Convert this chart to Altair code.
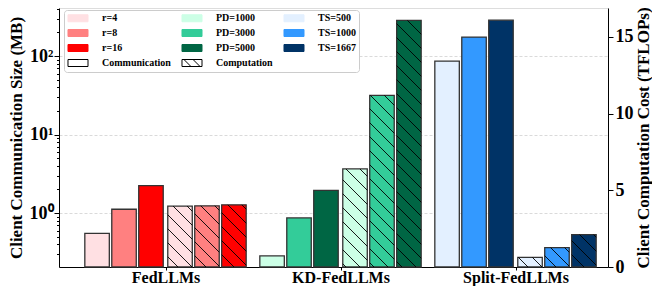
import altair as alt
import pandas as pd
import numpy as np

# ---------------- data ----------------
groups = ["FedLLMs", "KD-FedLLMs", "Split-FedLLMs"]
series = [["r=4", "r=8", "r=16"],
          ["PD=1000", "PD=3000", "PD=5000"],
          ["TS=500", "TS=1000", "TS=1667"]]
comm_mb = [[0.552, 1.12, 2.24],
           [0.285, 0.87, 1.95],
           [86.5, 175.0, 287.0]]
comp_tflops = [[3.97, 3.99, 4.05],
               [6.39, 11.19, 16.07],
               [0.63, 1.26, 2.11]]
colors = [["#FFE0E3", "#FF8080", "#FF0000"],
          ["#CCFFE6", "#33CC99", "#006644"],
          ["#E3F0FF", "#3399FF", "#003366"]]
kind_labels = ["Communication", "Computation"]
log_ticks = [0.3, 0.4, 0.5, 0.6, 0.7, 0.8, 0.9, 1, 2, 3, 4, 5, 6, 7, 8, 9,
             10, 20, 30, 40, 50, 60, 70, 80, 90, 100, 200, 300, 400]
lin_ticks = [0, 5, 10, 15]

# ---------------- layout constants ----------------
W, H = 549, 259
X_PX = 175.0
XMIN = -(165.5 - 59) / X_PX
XMAX = XMIN + W / X_PX
Y_LOG_MIN, Y_LOG_MAX = 0.206, 410
Y_LIN = [0, 16.88]
PPU = H / Y_LIN[1]
BAR_W = 0.14
COMM_OFF = [-0.391, -0.237, -0.083]
COMP_OFF = [0.083, 0.237, 0.391]
HATCH_S = 14.0

FONT = "Liberation Serif"

rows = []
for g in range(3):
    for k in range(3):
        rows.append(dict(group=groups[g], gi=g, k=k, series=series[g][k],
                         comm=comm_mb[g][k], comp=comp_tflops[g][k]))
df = pd.DataFrame(rows)

# hatch segments ("\\" pattern) for the computation bars, derived from the data
hrows = []
for g in range(3):
    for k in range(3):
        xc = g + COMP_OFF[k]
        x0p = (xc - BAR_W / 2 - XMIN) * X_PX
        x1p = (xc + BAR_W / 2 - XMIN) * X_PX
        ytp = H - comp_tflops[g][k] * PPU
        ybp = H
        cmin = ytp - x1p
        cmax = ybp - x0p
        c = np.ceil(cmin / HATCH_S) * HATCH_S
        while c <= cmax:
            xs = max(x0p, ytp - c)
            xe = min(x1p, ybp - c)
            if xe - xs > 0.8:
                hrows.append(dict(hx=xs / X_PX + XMIN, hx2=xe / X_PX + XMIN,
                                  hy=(H - (xs + c)) / PPU, hy2=(H - (xe + c)) / PPU))
            c += HATCH_S
hdf = pd.DataFrame(hrows)

# bar fill scale (9 series)
bar_domain = [s for grp in series for s in grp]
bar_range = [c for grp in colors for c in grp]
fill_scale = alt.Scale(domain=bar_domain, range=bar_range)

# legend entries (column-major: one column per method, kind patches in last row)
RECT = "M-2.86,-1H2.86V1H-2.86Z"
HATCH = "M-2.86,-1H2.86V1H-2.86Z M-2.3,-1L-0.3,1 M0.3,-1L2.3,1"
leg_domain, fill_range, stroke_range, shape_range = [], [], [], []
for g in range(3):
    for k in range(3):
        leg_domain.append(series[g][k])
        fill_range.append(colors[g][k])
        stroke_range.append(colors[g][k])
        shape_range.append(RECT)
    if g < 2:
        leg_domain.append(kind_labels[g])
        fill_range.append("#FFFFFF")
        stroke_range.append("#000000")
        shape_range.append(RECT if g == 0 else HATCH)
leg_df = pd.DataFrame({"series": leg_domain})

x_axis = alt.Axis(values=[0, 1, 2],
                  labelExpr="datum.value == 0 ? 'FedLLMs' : datum.value == 1 ? 'KD-FedLLMs' : 'Split-FedLLMs'",
                  grid=False, tickSize=3, labelPadding=-1, labelFontSize=16,
                  labelFont=FONT, labelFontWeight="bold", labelColor="black",
                  domainColor="black", tickColor="black", title=None)
x_scale = alt.Scale(domain=[XMIN, XMAX], nice=False, zero=False)

major_test = "indexof([1, 10, 100], datum.value) >= 0"
left_axis = alt.Axis(
    values=log_ticks,
    labelExpr="datum.value == 1 ? '10⁰' : datum.value == 10 ? '10¹' : datum.value == 100 ? '10²' : ''",
    labelOverlap=False,
    tickSize={"condition": {"test": major_test, "value": 5}, "value": 2.5},
    grid=True,
    gridOpacity={"condition": {"test": major_test, "value": 1}, "value": 0},
    gridDash=[3, 2], gridColor="#d0d0d0", gridWidth=0.8,
    labelFont=FONT, labelFontWeight="bold", labelFontSize=18, labelColor="black",
    labelPadding=1, domainColor="black", tickColor="black",
    title="Client Communication Size (MB)", titleFont=FONT, titleFontWeight="bold",
    titleFontSize=17, titleColor="black", titlePadding=4,
)
right_axis = alt.Axis(
    orient="right", values=lin_ticks, grid=False, tickSize=5,
    labelFont=FONT, labelFontWeight="bold", labelFontSize=18, labelColor="black",
    labelPadding=2, domainColor="black", tickColor="black",
    title="Client Computation Cost (TFLOPs)", titleFont=FONT, titleFontWeight="bold",
    titleFontSize=17, titleColor="black", titleAngle=270, titleBaseline="top",
    titlePadding=2,
)

base = alt.Chart(df).transform_calculate(
    cx0=f"datum.gi + [{COMM_OFF[0]}, {COMM_OFF[1]}, {COMM_OFF[2]}][datum.k] - {BAR_W / 2}",
    cx1=f"datum.gi + [{COMM_OFF[0]}, {COMM_OFF[1]}, {COMM_OFF[2]}][datum.k] + {BAR_W / 2}",
    px0=f"datum.gi + [{COMP_OFF[0]}, {COMP_OFF[1]}, {COMP_OFF[2]}][datum.k] - {BAR_W / 2}",
    px1=f"datum.gi + [{COMP_OFF[0]}, {COMP_OFF[1]}, {COMP_OFF[2]}][datum.k] + {BAR_W / 2}",
)

comm = base.mark_bar(stroke="#333333", strokeWidth=1.3).encode(
    x=alt.X("cx0:Q", scale=x_scale, axis=x_axis),
    x2="cx1:Q",
    y=alt.Y("comm:Q", scale=alt.Scale(type="log", domain=[Y_LOG_MIN, Y_LOG_MAX], nice=False),
            axis=left_axis),
    y2=alt.datum(Y_LOG_MIN),
    fill=alt.Fill("series:N", scale=fill_scale, legend=None),
)

comp = base.mark_bar(stroke="#333333", strokeWidth=1.3).encode(
    x=alt.X("px0:Q", scale=x_scale, axis=x_axis),
    x2="px1:Q",
    y=alt.Y("comp:Q", scale=alt.Scale(domain=Y_LIN, nice=False, zero=True), axis=right_axis),
    y2=alt.datum(0),
    fill=alt.Fill("series:N", scale=fill_scale, legend=None),
)

hatch = alt.Chart(hdf).mark_rule(color="black", strokeWidth=0.9).encode(
    x=alt.X("hx:Q", scale=x_scale, axis=x_axis),
    x2="hx2:Q",
    y=alt.Y("hy:Q", scale=alt.Scale(domain=Y_LIN, nice=False, zero=True), axis=right_axis),
    y2="hy2:Q",
)

legend_layer = alt.Chart(leg_df).transform_filter("false").mark_point(
    filled=True, opacity=1, fillOpacity=1, strokeOpacity=1
).encode(
    color=alt.Color("series:N", scale=alt.Scale(domain=leg_domain, range=fill_range),
                    legend=alt.Legend(title=None, orient="none", legendX=5, legendY=2,
                                      columns=3, direction="vertical",
                                      symbolSize=49, symbolOpacity=1, symbolStrokeWidth=1,
                                      symbolOffset=6, labelOffset=19,
                                      labelFont=FONT, labelFontWeight="bold", labelFontSize=10,
                                      labelColor="black",
                                      padding=3, rowPadding=3, columnPadding=8,
                                      strokeColor="#cccccc", fillColor="white",
                                      cornerRadius=3)),
    shape=alt.Shape("series:N", scale=alt.Scale(domain=leg_domain, range=shape_range)),
    stroke=alt.Stroke("series:N", scale=alt.Scale(domain=leg_domain, range=stroke_range)),
)

right_layer = alt.layer(comp, hatch)

chart = alt.layer(comm, right_layer, legend_layer).resolve_scale(
    y="independent"
).properties(
    width=W, height=H,
    autosize=alt.AutoSizeParams(type="none"),
    padding={"left": 51, "top": 0, "right": 44, "bottom": 19},
).configure_view(
    stroke="black", strokeWidth=1.2
).configure(
    font=FONT
)

chart.save("out.html", embed_options={"renderer": "svg", "actions": False})
